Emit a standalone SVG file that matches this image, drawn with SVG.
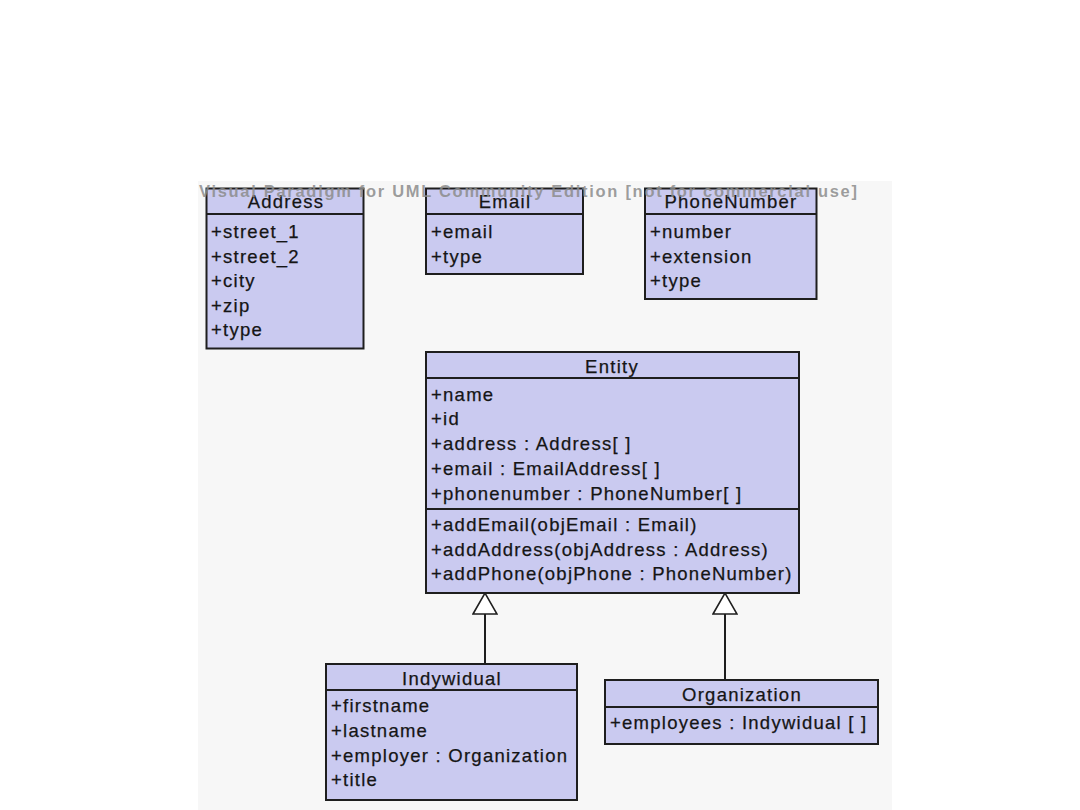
<svg xmlns="http://www.w3.org/2000/svg" width="1080" height="810" viewBox="0 0 1080 810">
<style>
.box{fill:#cacaf0;stroke:#1e1e1e;stroke-width:2}
.sep{stroke:#1e1e1e;stroke-width:2}
.t{font-family:"Liberation Sans",Arial,sans-serif;font-size:18.5px;letter-spacing:1.25px;fill:#151515;stroke:#151515;stroke-width:0.25}
.h{text-anchor:middle}
.conn{stroke:#1e1e1e;stroke-width:2;fill:none}
.wm{font-family:"Liberation Sans",Arial,sans-serif;font-size:16.5px;font-weight:bold;fill:#8c8c8c;fill-opacity:0.85}
</style>
<defs>
<marker id="gen" viewBox="0 0 24 26" refX="22" refY="13" markerWidth="24" markerHeight="26" markerUnits="userSpaceOnUse" orient="auto">
<path d="M1,1 L22,13 L1,25 Z" fill="#ffffff" stroke="#1e1e1e" stroke-width="1.6"/>
</marker>
</defs>
<rect x="0" y="0" width="1080" height="810" fill="#ffffff"/>
<rect x="198" y="181" width="694" height="629" fill="#f7f7f7"/>

<g id="connectors">
<path class="conn" d="M485,664 L485,593" marker-end="url(#gen)"/>
<path class="conn" d="M725,680 L725,593" marker-end="url(#gen)"/>
</g>

<g id="address">
<rect class="box" x="206.5" y="188.5" width="157" height="160"/>
<line class="sep" x1="206.5" y1="214" x2="363.5" y2="214"/>
<text class="t h" x="286" y="208">Address</text>
<text class="t" x="211" y="238">+street_1</text>
<text class="t" x="211" y="263">+street_2</text>
<text class="t" x="211" y="287">+city</text>
<text class="t" x="211" y="312">+zip</text>
<text class="t" x="211" y="336">+type</text>
</g>

<g id="email">
<rect class="box" x="426" y="188.5" width="157" height="85.5"/>
<line class="sep" x1="426" y1="214" x2="583" y2="214"/>
<text class="t h" x="505" y="208">Email</text>
<text class="t" x="431" y="238">+email</text>
<text class="t" x="431" y="263">+type</text>
</g>

<g id="phonenumber">
<rect class="box" x="645" y="188.5" width="171.5" height="110.5"/>
<line class="sep" x1="645" y1="214" x2="816.5" y2="214"/>
<text class="t h" x="731" y="208">PhoneNumber</text>
<text class="t" x="650" y="238">+number</text>
<text class="t" x="650" y="263">+extension</text>
<text class="t" x="650" y="287">+type</text>
</g>

<g id="entity">
<rect class="box" x="426" y="352" width="373" height="241"/>
<line class="sep" x1="426" y1="378" x2="799" y2="378"/>
<line class="sep" x1="426" y1="509" x2="799" y2="509"/>
<text class="t h" x="612" y="373">Entity</text>
<text class="t" x="431" y="401">+name</text>
<text class="t" x="431" y="425">+id</text>
<text class="t" x="431" y="450">+address : Address[ ]</text>
<text class="t" x="431" y="475">+email : EmailAddress[ ]</text>
<text class="t" x="431" y="500">+phonenumber : PhoneNumber[ ]</text>
<text class="t" x="431" y="531">+addEmail(objEmail : Email)</text>
<text class="t" x="431" y="556">+addAddress(objAddress : Address)</text>
<text class="t" x="431" y="580">+addPhone(objPhone : PhoneNumber)</text>
</g>

<g id="indywidual">
<rect class="box" x="326" y="664" width="251" height="136"/>
<line class="sep" x1="326" y1="690" x2="577" y2="690"/>
<text class="t h" x="452" y="685">Indywidual</text>
<text class="t" x="331" y="712">+firstname</text>
<text class="t" x="331" y="737">+lastname</text>
<text class="t" x="331" y="762">+employer : Organization</text>
<text class="t" x="331" y="786">+title</text>
</g>

<g id="organization">
<rect class="box" x="605" y="680" width="273" height="64"/>
<line class="sep" x1="605" y1="707" x2="878" y2="707"/>
<text class="t h" x="742" y="701">Organization</text>
<text class="t" x="610" y="729">+employees : Indywidual [ ]</text>
</g>

<text class="wm" x="199" y="197" textLength="658" lengthAdjust="spacing">Visual Paradigm for UML Community Edition [not for commercial use]</text>
</svg>
